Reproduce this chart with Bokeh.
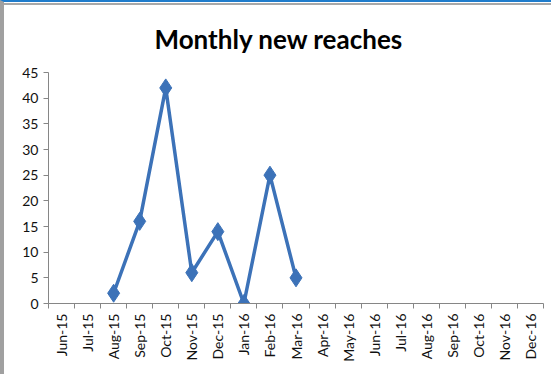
from bokeh.plotting import figure
from bokeh.models import FixedTicker, ColumnDataSource, Range1d
from bokeh.embed import file_html
from bokeh.resources import INLINE

months = ["Jun-15", "Jul-15", "Aug-15", "Sep-15", "Oct-15", "Nov-15", "Dec-15",
          "Jan-16", "Feb-16", "Mar-16", "Apr-16", "May-16", "Jun-16", "Jul-16",
          "Aug-16", "Sep-16", "Oct-16", "Nov-16", "Dec-16"]
reaches = [None, None, 2, 16, 42, 6, 14, 0, 25, 5,
           None, None, None, None, None, None, None, None, None]
y_ticks = [0, 5, 10, 15, 20, 25, 30, 35, 40, 45]

xs = [i + 0.5 for i, v in enumerate(reaches) if v is not None]
ys = [v for v in reaches if v is not None]
src = ColumnDataSource(dict(x=xs, y=ys))

p = figure(width=547, height=372, output_backend="svg", toolbar_location=None,
           x_range=Range1d(0, len(months)), y_range=Range1d(0, 45),
           min_border_left=44, min_border_right=12, min_border_top=70, min_border_bottom=73)
p.border_fill_color = None
p.styles = {"border-left": "4px solid #a0a0a0", "border-top": "2px solid #1f7ccc",
            "box-sizing": "content-box", "background-color": "#ffffff",
            "box-shadow": "inset 0 1px 0 #ffffff, inset 0 3px 0 #a8a8a8"}

p.title.text = "Monthly new reaches"
p.title.align = "left"
p.title.offset = 106
p.title.standoff = 36
p.title.text_font = "Lato"
p.title.text_font_size = "26px"
p.title.text_font_style = "bold"
p.title.text_color = "#000000"

p.grid.visible = False
p.outline_line_color = None

p.xaxis.ticker = FixedTicker(ticks=[i + 0.5 for i in range(len(months))],
                             minor_ticks=list(range(len(months) + 1)))
p.xaxis.major_label_overrides = {i + 0.5: m for i, m in enumerate(months)}
p.xaxis.major_label_orientation = 1.5708
p.xaxis.major_tick_line_color = None
p.xaxis.minor_tick_in = 0
p.xaxis.minor_tick_out = 5
p.xaxis.minor_tick_line_color = "#868686"
p.xaxis.axis_line_color = "#868686"
p.xaxis.major_label_text_font = "Lato"
p.xaxis.major_label_text_font_size = "14px"
p.xaxis.major_label_text_color = "#111111"
p.xaxis.major_label_standoff = 4

p.yaxis.ticker = FixedTicker(ticks=y_ticks, minor_ticks=[])
p.yaxis.major_tick_in = 0
p.yaxis.major_tick_out = 5
p.yaxis.major_tick_line_color = "#868686"
p.yaxis.axis_line_color = "#868686"
p.yaxis.major_label_text_font = "Lato"
p.yaxis.major_label_text_font_size = "14px"
p.yaxis.major_label_text_color = "#111111"
p.yaxis.major_label_standoff = 5

p.line("x", "y", source=src, line_color="#3c72b8", line_width=3.5)
p.scatter("x", "y", source=src, marker="diamond", size=18, fill_color="#3c72b8",
          line_color="#3c72b8")

open("out.html", "w").write(file_html(p, INLINE))
